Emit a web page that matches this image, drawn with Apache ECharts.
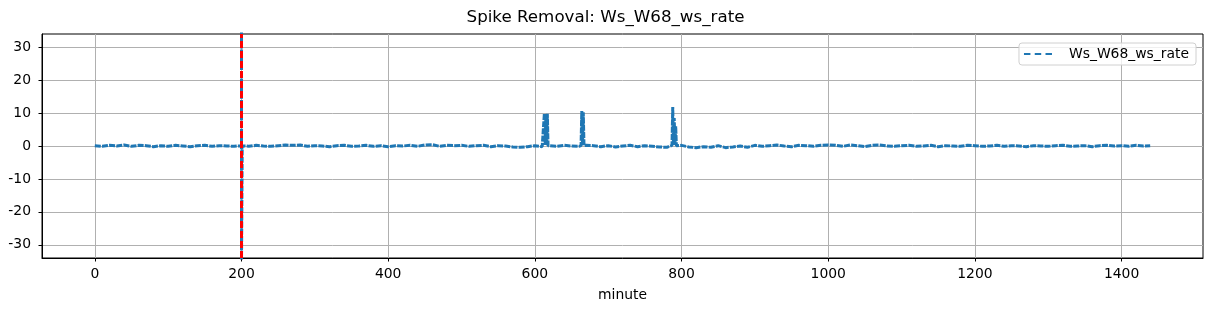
<!DOCTYPE html>
<html>
<head>
<meta charset="utf-8">
<script src="https://cdn.jsdelivr.net/npm/echarts@6/dist/echarts.min.js"></script>
<style>html,body{margin:0;padding:0;background:#fff}#c{width:1211px;height:311px}</style>
</head>
<body>
<div id="c"></div>
<script>
// baseline values, one every 10 minutes starting at minute 0
const baseStep = 10;
const baseline = [
  0.1,-0.1,0.2,0.0,0.3,-0.1,0.2,0.1,-0.2,0.1,
  -0.1,0.2,0.0,-0.2,0.1,0.2,-0.1,0.1,0.0,-0.1,
  0.1,-0.1,0.2,0.0,-0.1,0.1,0.3,0.2,0.3,-0.1,
  0.1,0.0,-0.2,0.1,0.2,-0.1,0.0,0.2,-0.1,0.1,
  -0.2,0.1,0.0,0.2,-0.1,0.3,0.4,-0.1,0.2,0.1,
  0.2,-0.1,0.1,0.2,-0.2,0.1,0.0,-0.3,-0.4,-0.2,
  0.1,-0.2,0.1,-0.1,0.2,0.0,-0.1,0.2,0.1,-0.2,
  0.1,-0.3,0.0,0.2,-0.2,0.1,-0.1,-0.3,-0.4,0.1,
  0.2,-0.3,-0.5,-0.2,-0.4,0.1,-0.5,-0.3,0.0,-0.4,
  0.2,-0.1,0.1,0.3,0.0,-0.2,0.2,0.1,-0.1,0.2,
  0.3,0.2,-0.1,0.3,0.1,-0.2,0.2,0.3,0.0,-0.1,
  0.1,0.2,-0.1,0.0,0.2,-0.2,0.1,0.0,-0.1,0.2,
  0.1,-0.1,0.0,0.2,-0.1,0.1,0.0,-0.2,0.1,0.0,
  -0.1,0.1,0.2,-0.1,0.0,0.1,-0.2,0.1,0.2,0.0,
  0.1,-0.1,0.2,0.0
];
const lastPoint = [1439, 0.1];
// spike events [minute, value]
const spike200 = [[200, 36], [200, -36], [201, 0.1]];
const spike614 = [[612,0.1],[613,9.9],[614,0.3],[615,9.6],[616,0.2],[617,9.8],[618,0.1]];
const spike665 = [[663,0.1],[664,10.6],[665,0.4],[666,10.2],[667,0.1]];
const spike789 = [[787,0.2],[788,11.8],[789,0.5],[790,8.5],[791,0.3],[792,6.0],[793,0.1]];
const removalMinute = 200;
const xTicks = [0,200,400,600,800,1000,1200,1400];
const yTicks = [-30,-20,-10,0,10,20,30];
const seriesName = 'Ws_W68_ws_rate';

const pts = baseline.map((v,i)=>[i*baseStep, v]);
pts.push(lastPoint);
const all = pts.concat(spike200, spike614, spike665, spike789);
const data = all.map((p,i)=>({p,i})).sort((a,b)=>a.p[0]-b.p[0] || a.i-b.i).map(o=>o.p);

const font = 'DejaVu Sans';
const fmt = v => String(v);
const chart = echarts.init(document.getElementById('c'));
chart.setOption({
  animation:false,
  backgroundColor:'#fff',
  title:{text:'Spike Removal: '+seriesName,left:'center',top:4,
    textStyle:{fontFamily:font,fontSize:16.7,fontWeight:'normal',color:'#000'}},
  legend:{right:15,top:43,orient:'vertical',
    backgroundColor:'rgba(255,255,255,0.8)',borderColor:'#d0d0d0',borderWidth:1,borderRadius:3,
    padding:[4,7,4,5],itemWidth:28,itemHeight:12,
    textStyle:{fontFamily:font,fontSize:13.9,color:'#000',padding:[0,0,0,12]},
    data:[{name:seriesName,icon:'path://M0,0L6,0L6,2L0,2Z M10,0L16,0L16,2L10,2Z M20,0L26,0L26,2L20,2Z'}]},
  grid:{left:42,right:8,top:34,bottom:53,show:true,borderColor:'#000',borderWidth:1,backgroundColor:'transparent'},
  xAxis:{type:'value',min:-72,max:1511,name:'minute',nameLocation:'middle',nameGap:30,
    nameTextStyle:{fontFamily:font,fontSize:13.9,color:'#000'},
    axisLine:{show:true,onZero:false,lineStyle:{color:'#000',width:1}},
    axisTick:{show:true,inside:false,length:3.5,customValues:xTicks,lineStyle:{color:'#000'}},
    axisLabel:{customValues:xTicks,formatter:fmt,fontFamily:font,fontSize:13.9,color:'#000',margin:9},
    splitLine:{show:true,lineStyle:{color:'#b0b0b0',width:1}}},
  yAxis:{type:'value',min:-34,max:34,
    axisLine:{show:true,onZero:false,lineStyle:{color:'#000',width:1}},
    axisTick:{show:true,inside:false,length:3.5,customValues:yTicks,lineStyle:{color:'#000'}},
    axisLabel:{customValues:yTicks,formatter:fmt,fontFamily:font,fontSize:13.9,color:'#000',margin:11},
    splitLine:{show:true,lineStyle:{color:'#b0b0b0',width:1}}},
  series:[{name:seriesName,type:'line',data:data,showSymbol:false,symbol:'none',clip:true,
    itemStyle:{color:'#1f77b4'},
    lineStyle:{color:'#1f77b4',width:3,type:[6,1.2]},
    markLine:{silent:true,symbol:['none','none'],label:{show:false},
      lineStyle:{color:'#ff0000',width:3,type:[7,3]},
      data:[{xAxis:removalMinute}]}
  }]
});
</script>
</body>
</html>
